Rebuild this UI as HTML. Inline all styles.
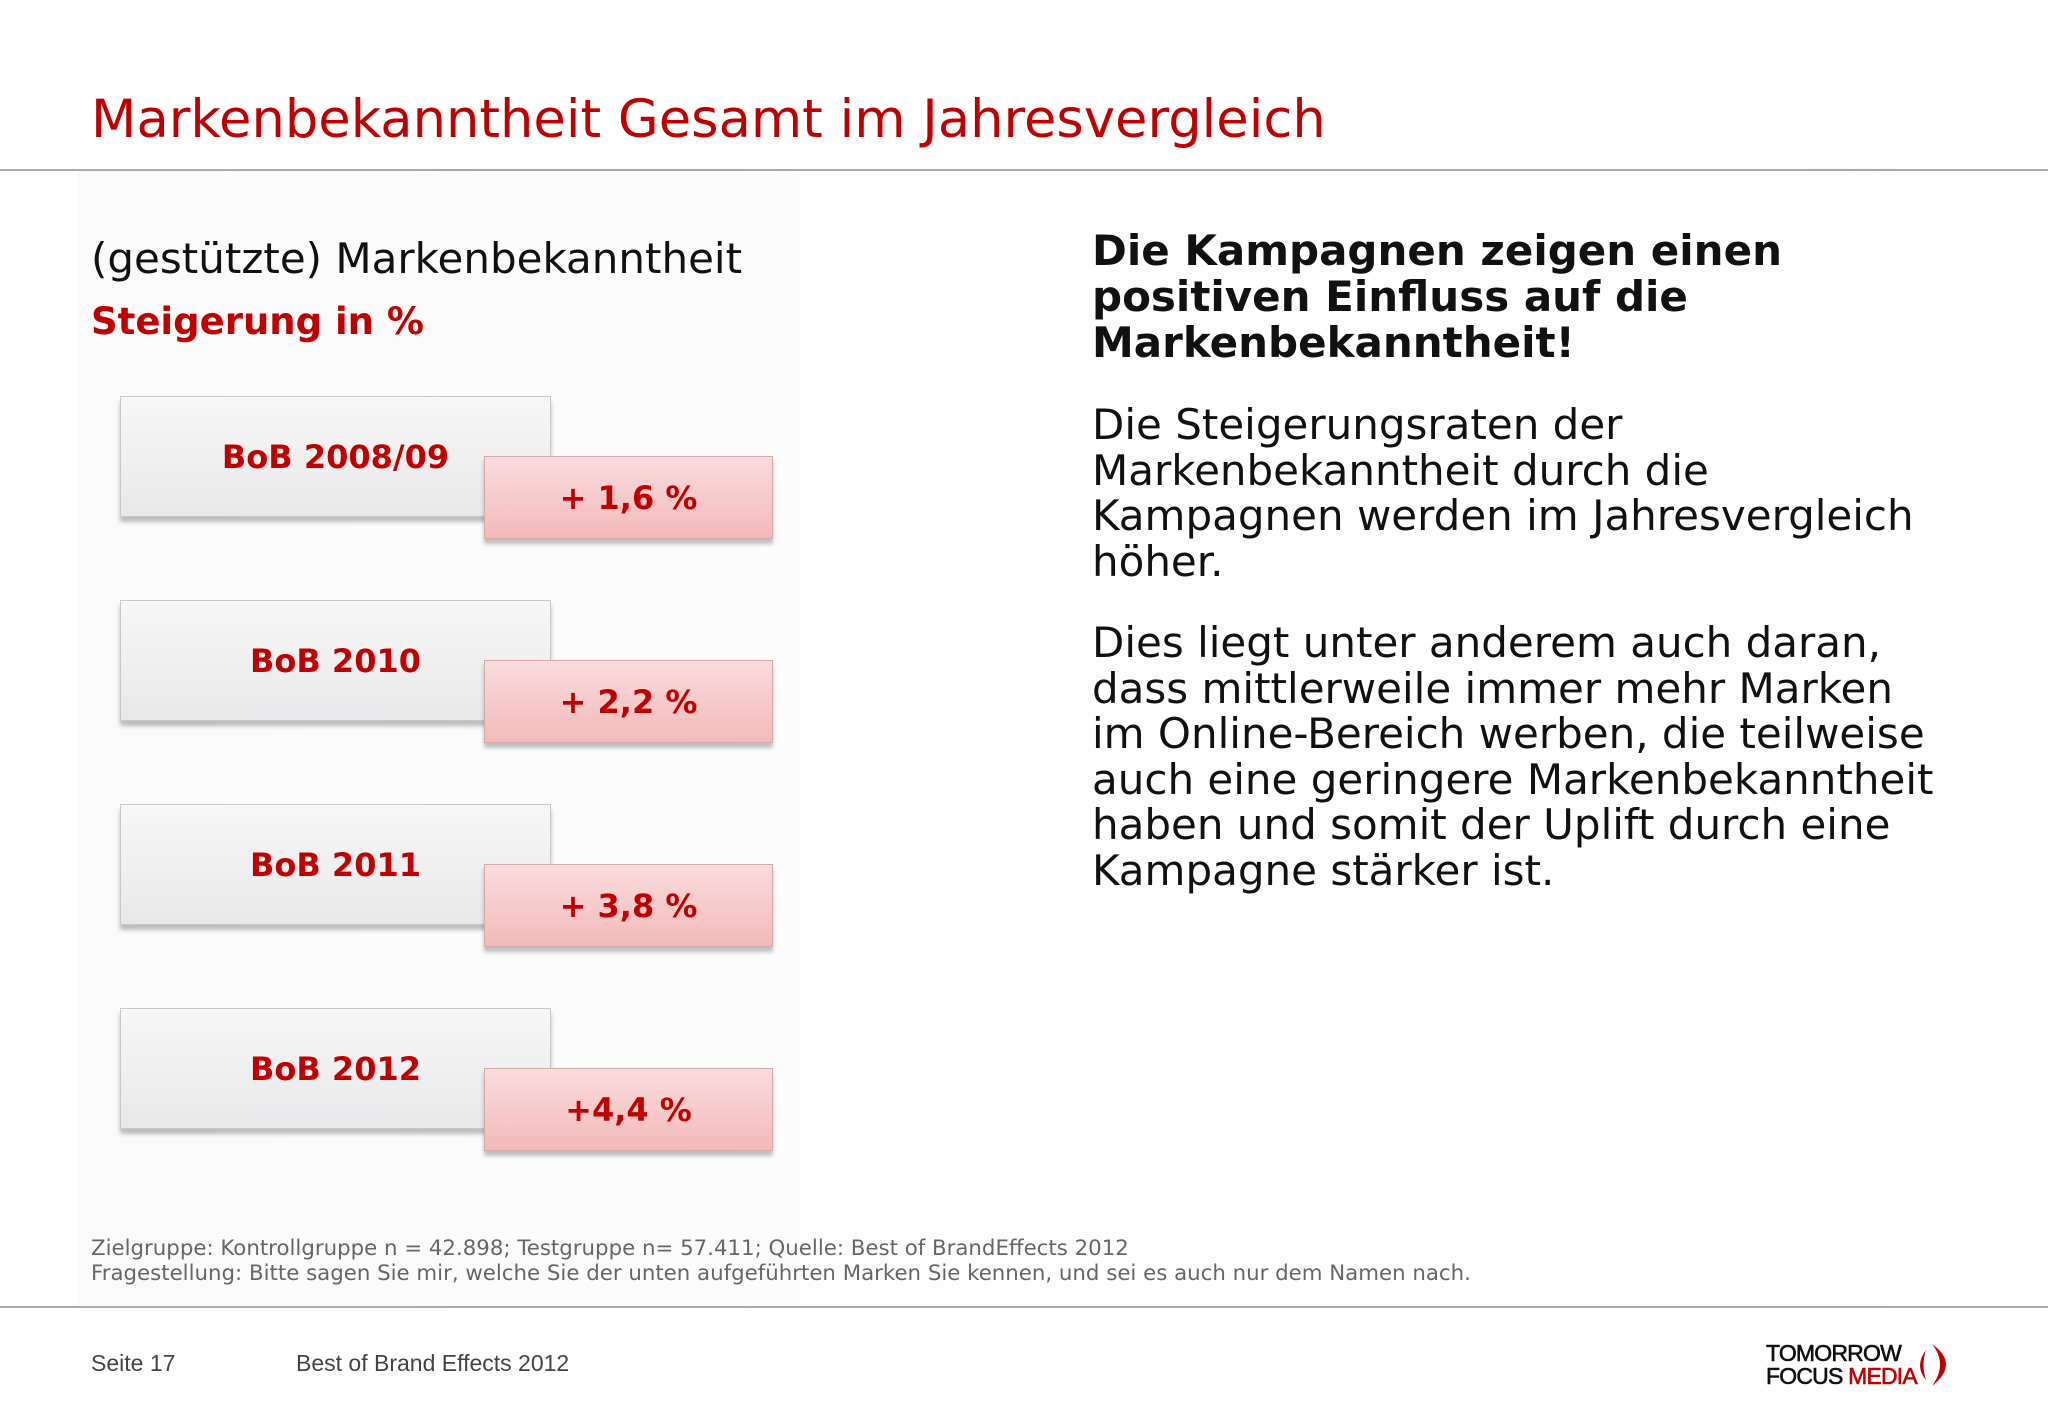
<!DOCTYPE html>
<html><head><meta charset="utf-8">
<style>
html,body{margin:0;padding:0;}
body{width:2048px;height:1418px;position:relative;background:#fff;overflow:hidden;font-family:"DejaVu Sans","Liberation Sans",sans-serif;}
.abs{position:absolute;white-space:nowrap;}
#bg{position:absolute;left:78px;top:171px;width:1970px;height:1135px;background:linear-gradient(90deg,#fafafb 0%,#fdfdfd 40%,#fff 100%);}
#title{left:91px;top:89px;font-size:52.7px;color:#c00000;}
.hr{position:absolute;left:0;width:2048px;height:2px;background:#aaa;}
#sub{left:91px;top:234px;font-size:42px;color:#111;}
#steig{left:91px;top:300px;font-size:37px;color:#c00000;font-weight:bold;}
.gbox{position:absolute;width:431px;height:121px;background:linear-gradient(#f7f7f8,#e8e8ea);border:1px solid #c8c8cc;box-shadow:0 5px 4px rgba(0,0,0,0.25);box-sizing:border-box;}
.pbox{position:absolute;width:289px;height:83px;background:linear-gradient(#fadcdc,#f3b9ba);border:1px solid #d4aaaa;box-shadow:0 5px 4px rgba(0,0,0,0.25);box-sizing:border-box;}
.lbl{position:absolute;font-weight:bold;color:#c00000;font-size:32px;text-align:center;}
#rhead{left:1092px;top:228px;font-size:42px;font-weight:bold;line-height:46px;color:#111;}
.rp{left:1092px;font-size:42px;line-height:45.5px;color:#111;}
.fn{left:91px;font-size:21.3px;color:#666;}
.ft{font-family:"Liberation Sans",sans-serif;font-size:23px;color:#444;top:1350px;}
</style></head><body>
<div id="bg"></div>
<div class="abs" id="title">Markenbekanntheit Gesamt im Jahresvergleich</div>
<div class="hr" style="top:169px"></div>
<div class="abs" id="sub">(gestützte) Markenbekanntheit</div>
<div class="abs" id="steig">Steigerung in %</div>
<div id="chart"></div>
<div class="abs" id="rhead">Die Kampagnen zeigen einen<br>positiven Einfluss auf die<br>Markenbekanntheit!</div>
<div class="abs rp" style="top:402px">Die Steigerungsraten der<br>Markenbekanntheit durch die<br>Kampagnen werden im Jahresvergleich<br>höher.</div>
<div class="abs rp" style="top:620px">Dies liegt unter anderem auch daran,<br>dass mittlerweile immer mehr Marken<br>im Online-Bereich werben, die teilweise<br>auch eine geringere Markenbekanntheit<br>haben und somit der Uplift durch eine<br>Kampagne stärker ist.</div>
<div class="abs fn" style="top:1236px">Zielgruppe: Kontrollgruppe n = 42.898; Testgruppe n= 57.411; Quelle: Best of BrandEffects 2012</div>
<div class="abs fn" style="top:1261px">Fragestellung: Bitte sagen Sie mir, welche Sie der unten aufgeführten Marken Sie kennen, und sei es auch nur dem Namen nach.</div>
<div class="hr" style="top:1306px"></div>
<div class="abs ft" style="left:91px">Seite 17</div>
<div class="abs ft" style="left:296px">Best of Brand Effects 2012</div>
<div class="abs" style="left:1766px;top:1342px;font-family:'Liberation Sans',sans-serif;font-size:23px;line-height:23px;letter-spacing:-0.8px;color:#111;-webkit-text-stroke:0.6px #111;">TOMORROW<br>FOCUS <span style="color:#c00000;-webkit-text-stroke:0.6px #c00000">MEDIA</span></div>
<svg class="abs" style="left:1910px;top:1340px" width="50" height="48">
<path d="M16 10 Q4 26 16 40 Q11 25 16 10Z" fill="#c00000"/>
<path d="M22 4 Q50 24 22 46 Q38 24 22 4Z" fill="#c00000"/>
</svg>
<script>
const categories=["BoB 2008/09","BoB 2010","BoB 2011","BoB 2012"];
const upliftLabels=["+ 1,6 %","+ 2,2 %","+ 3,8 %","+4,4 %"];
const upliftValues=[1.6,2.2,3.8,4.4];
const chart=document.getElementById('chart');
categories.forEach((c,i)=>{
  const y0=396+i*204;
  const g=document.createElement('div');
  g.className='gbox';g.style.left='120px';g.style.top=y0+'px';
  
  
  chart.appendChild(g);
  const t=document.createElement('div');
  t.className='lbl';t.style.left='120px';t.style.width='431px';t.style.top=(y0+42)+'px';t.textContent=c;
  
  
  chart.appendChild(t);
  const p=document.createElement('div');
  p.className='pbox';p.style.left='484px';p.style.top=(y0+60)+'px';
  
  
  chart.appendChild(p);
  const v=document.createElement('div');
  v.className='lbl';v.style.left='484px';v.style.width='289px';v.style.top=(y0+83)+'px';v.textContent=upliftLabels[i];
  
  
  chart.appendChild(v);
});
</script>
</body></html>
